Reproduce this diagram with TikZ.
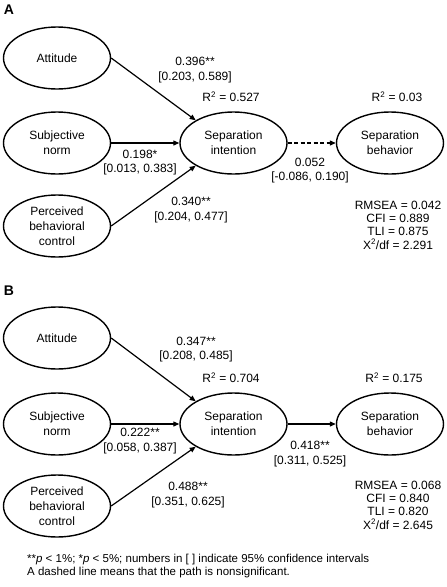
\documentclass[tikz,border=0pt]{standalone}
\usepackage{fontspec}
\setmainfont{Liberation Sans}
\usetikzlibrary{shapes.geometric,arrows.meta}
\begin{document}
\begin{tikzpicture}[x=1pt,y=-1pt,
  var/.style={ellipse,draw,line width=1.4pt,minimum width=107pt,minimum height=62pt,inner sep=0pt,align=center,font=\fontsize{12}{15}\selectfont},
  lbl/.style={align=center,inner sep=0pt,font=\fontsize{12}{14.5}\selectfont},
  fit/.style={align=center,inner sep=0pt,font=\fontsize{12}{13.4}\selectfont},
  path/.style={line width=1.2pt,-{Triangle[length=6pt,width=5pt]}},
  ns/.style={path,dash pattern=on 4pt off 2.5pt},
  panel/.style={font=\fontsize{14}{16}\selectfont\bfseries,inner sep=0pt}]
\useasboundingbox (0,0) rectangle (447,587);

% Panel A
\node[panel] (la) at (9,10) {A};
\node[var] (aatt) at (57,58) {Attitude};
\node[var] (asn) at (57,143) {Subjective\\norm};
\node[var] (apbc) at (57,226) {Perceived\\behavioral\\control};
\node[var] (asi) at (233.5,143) {Separation\\intention};
\node[var] (asb) at (390,143) {Separation\\behavior};
\draw[path] (aatt.east) -- (asi.149);
\draw[path] (asn.east) -- (asi.west);
\draw[path] (apbc.east) -- (asi.211);
\draw[ns] (asi.east) -- (asb.west);
\node[lbl] (aattl) at (195,70) {0.396**\\{[0.203, 0.589]}};
\node[lbl] (asnl) at (140,162.5) {0.198*\\{[0.013, 0.383]}};
\node[lbl] (apbcl) at (191,210) {0.340**\\{[0.204, 0.477]}};
\node[lbl] (asil) at (310,170.5) {0.052\\{[-0.086, 0.190]}};
\node[lbl] (ar1) at (231,97) {R\textsuperscript{2} = 0.527};
\node[lbl] (ar2) at (397,97) {R\textsuperscript{2} = 0.03};
\node[fit] (afit) at (398,225) {RMSEA = 0.042\\CFI = 0.889\\TLI = 0.875\\X\textsuperscript{2}/df = 2.291};

% Panel B
\node[panel] (lb) at (9,291) {B};
\node[var] (batt) at (57,338) {Attitude};
\node[var] (bsn) at (57,424) {Subjective\\norm};
\node[var] (bpbc) at (57,506) {Perceived\\behavioral\\control};
\node[var] (bsi) at (233.5,424) {Separation\\intention};
\node[var] (bsb) at (390,424) {Separation\\behavior};
\draw[path] (batt.east) -- (bsi.149);
\draw[path] (bsn.east) -- (bsi.west);
\draw[path] (bpbc.east) -- (bsi.211);
\draw[path] (bsi.east) -- (bsb.west);
\node[lbl] (battl) at (196,349.5) {0.347**\\{[0.208, 0.485]}};
\node[lbl] (bsnl) at (140,441) {0.222**\\{[0.058, 0.387]}};
\node[lbl] (bpbcl) at (188,495) {0.488**\\{[0.351, 0.625]}};
\node[lbl] (bsil) at (310,454) {0.418**\\{[0.311, 0.525]}};
\node[lbl] (br1) at (231,378) {R\textsuperscript{2} = 0.704};
\node[lbl] (br2) at (394,378) {R\textsuperscript{2} = 0.175};
\node[fit] (bfit) at (398,505) {RMSEA = 0.068\\CFI = 0.840\\TLI = 0.820\\X\textsuperscript{2}/df = 2.645};

% Footnote
\node[anchor=west,align=left,inner sep=0pt,font=\fontsize{11.5}{13.5}\selectfont] (note) at (27,566)
  {**\textit{p} < 1\%; *\textit{p} < 5\%; numbers in [ ] indicate 95\% confidence intervals\\A dashed line means that the path is nonsignificant.};
\end{tikzpicture}
\end{document}
